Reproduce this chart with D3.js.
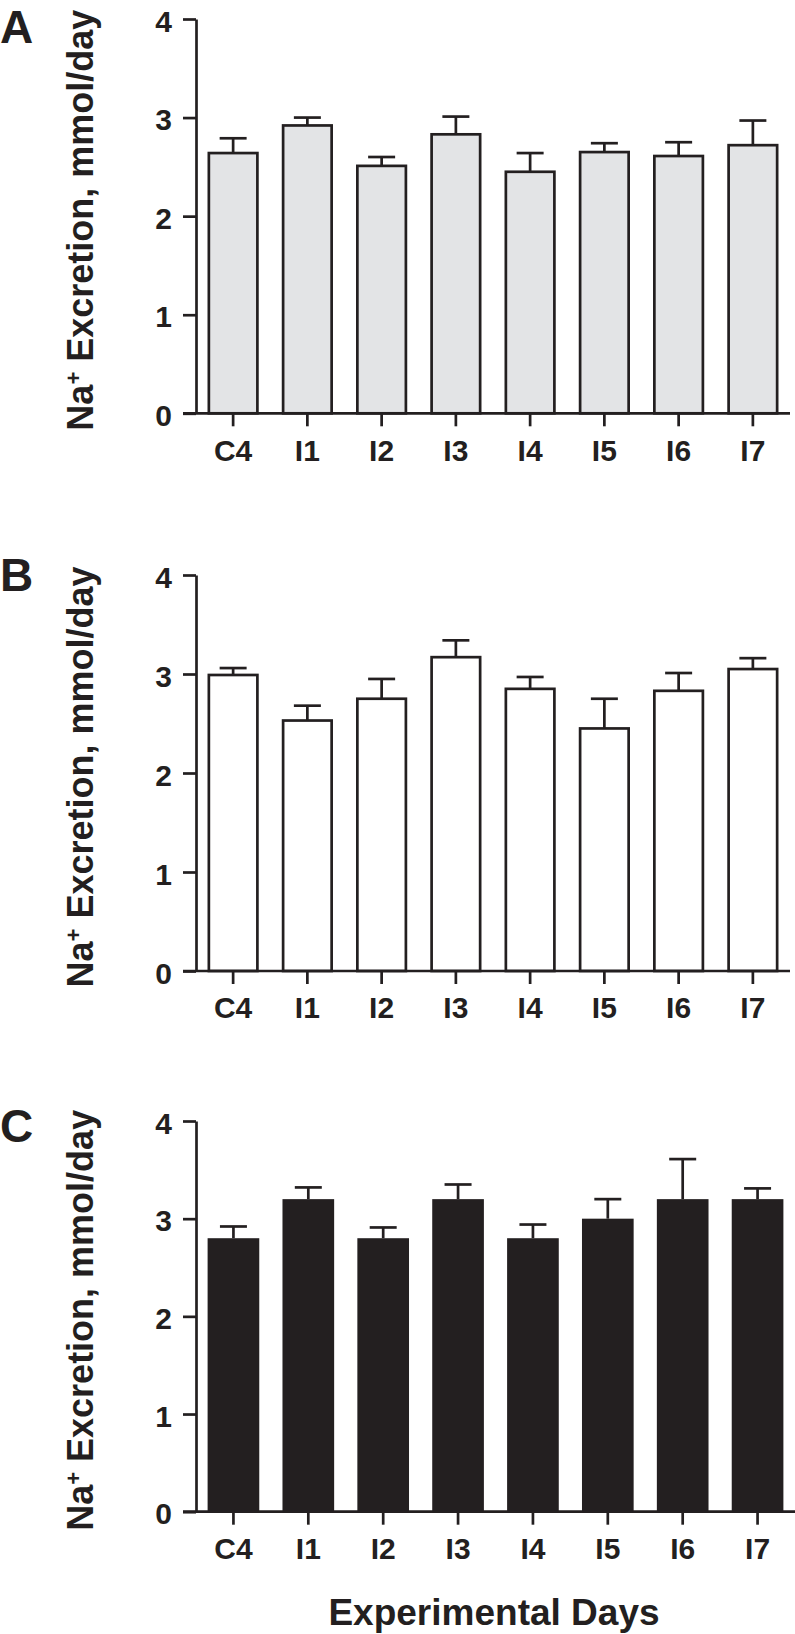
<!DOCTYPE html>
<html>
<head>
<meta charset="utf-8">
<script src="https://cdn.jsdelivr.net/npm/d3@7"></script>
<style>
  html, body { margin: 0; padding: 0; background: #fff; }
  svg { display: block; }
  text { font-family: "Liberation Sans", Arial, Helvetica, sans-serif; font-weight: bold; fill: #231f20; }
</style>
</head>
<body>
<svg id="chart" width="795" height="1634"></svg>
<script>
// ---- data ----
const categories = ["C4", "I1", "I2", "I3", "I4", "I5", "I6", "I7"];
const meanA = [2.64, 2.92, 2.51, 2.83, 2.45, 2.65, 2.61, 2.72];
const semA  = [0.15, 0.08, 0.09, 0.18, 0.19, 0.09, 0.14, 0.25];
const meanB = [2.99, 2.53, 2.75, 3.17, 2.85, 2.45, 2.83, 3.05];
const semB  = [0.07, 0.15, 0.20, 0.17, 0.12, 0.30, 0.18, 0.11];
const meanC = [2.80, 3.20, 2.80, 3.20, 2.80, 3.00, 3.20, 3.20];
const semC  = [0.12, 0.12, 0.11, 0.15, 0.14, 0.20, 0.41, 0.11];
const yTicks = [0, 1, 2, 3, 4];
const panelLetters = ["A", "B", "C"];
const yLabelMain = "Na";
const yLabelSup = "+";
const yLabelRest = " Excretion, mmol/day";
const xTitle = "Experimental Days";

// ---- layout / style ----
const ink = "#231f20";
const panels = [
  { letter: panelLetters[0], mean: meanA, sem: semA, fill: "#e3e4e6", stroked: true,
    top: 19, bottom: 413.3, left: 196, right: 790, letterY: 43 },
  { letter: panelLetters[1], mean: meanB, sem: semB, fill: "#ffffff", stroked: true,
    top: 575, bottom: 971, left: 196, right: 790, letterY: 591 },
  { letter: panelLetters[2], mean: meanC, sem: semC, fill: ink, stroked: false,
    top: 1121, bottom: 1511.7, left: 196, right: 795, letterY: 1142 }
];
const sw = 2.7;
const tickFont = 30;

const svg = d3.select("#chart");

panels.forEach(p => {
  const g = svg.append("g");
  const x = d3.scaleBand().domain(categories).range([p.left, p.right])
    .paddingInner(0.31).paddingOuter(0.155);
  const y = d3.scaleLinear().domain([0, 4]).range([p.bottom, p.top]);

  // bars
  const bw = x.bandwidth();
  g.selectAll("rect.bar").data(categories).join("rect")
    .attr("class", "bar")
    .attr("x", (d) => x(d) + (p.stroked ? sw / 2 : 0))
    .attr("width", bw - (p.stroked ? sw : 0))
    .attr("y", (d, i) => y(p.mean[i]))
    .attr("height", (d, i) => y(0) - y(p.mean[i]))
    .attr("fill", p.fill)
    .attr("stroke", p.stroked ? ink : "none")
    .attr("stroke-width", sw);

  // error bars
  const capW = 27;
  g.selectAll("line.err").data(categories).join("line")
    .attr("class", "err")
    .attr("x1", d => x(d) + bw / 2).attr("x2", d => x(d) + bw / 2)
    .attr("y1", (d, i) => y(p.mean[i])).attr("y2", (d, i) => y(p.mean[i] + p.sem[i]))
    .attr("stroke", ink).attr("stroke-width", sw);
  g.selectAll("line.cap").data(categories).join("line")
    .attr("class", "cap")
    .attr("x1", d => x(d) + bw / 2 - capW / 2).attr("x2", d => x(d) + bw / 2 + capW / 2)
    .attr("y1", (d, i) => y(p.mean[i] + p.sem[i])).attr("y2", (d, i) => y(p.mean[i] + p.sem[i]))
    .attr("stroke", ink).attr("stroke-width", sw);

  // y axis
  const yAxis = d3.axisLeft(y).tickValues(yTicks).tickFormat(d3.format("d"))
    .tickSize(13).tickSizeOuter(0).tickPadding(11);
  const ya = g.append("g").attr("transform", `translate(${p.left},0)`).call(yAxis);
  ya.attr("font-size", tickFont);
  ya.select(".domain").attr("stroke", ink).attr("stroke-width", sw);
  ya.selectAll(".tick line").attr("stroke", ink).attr("stroke-width", sw);
  ya.selectAll(".tick text").attr("font-size", tickFont).attr("fill", ink)
    .attr("dy", "0.4em");

  // x axis
  const xAxis = d3.axisBottom(x).tickSize(13).tickSizeOuter(0).tickPadding(13);
  const xa = g.append("g").attr("transform", `translate(0,${p.bottom})`).call(xAxis);
  xa.attr("font-size", tickFont);
  xa.select(".domain").attr("stroke", ink).attr("stroke-width", sw)
    .attr("d", `M${p.left - 13},0H${p.right}`);
  xa.selectAll(".tick line").attr("stroke", ink).attr("stroke-width", sw);
  xa.selectAll(".tick text").attr("font-size", tickFont).attr("fill", ink);

  // y label (rotated)
  const cy = (p.top + p.bottom) / 2 + 4;
  const lbl = g.append("text")
    .attr("transform", `translate(93,${cy}) rotate(-90)`)
    .attr("text-anchor", "middle")
    .attr("font-size", 36);
  lbl.append("tspan").text(yLabelMain);
  lbl.append("tspan").text(yLabelSup).attr("font-size", 22).attr("baseline-shift", "super");
  lbl.append("tspan").text(yLabelRest);

  // panel letter
  g.append("text").attr("x", 0).attr("y", p.letterY).attr("font-size", 46).text(p.letter);
});

// x title
svg.append("text").attr("x", 494).attr("y", 1625).attr("text-anchor", "middle")
  .attr("font-size", 37).text(xTitle);
</script>
</body>
</html>
